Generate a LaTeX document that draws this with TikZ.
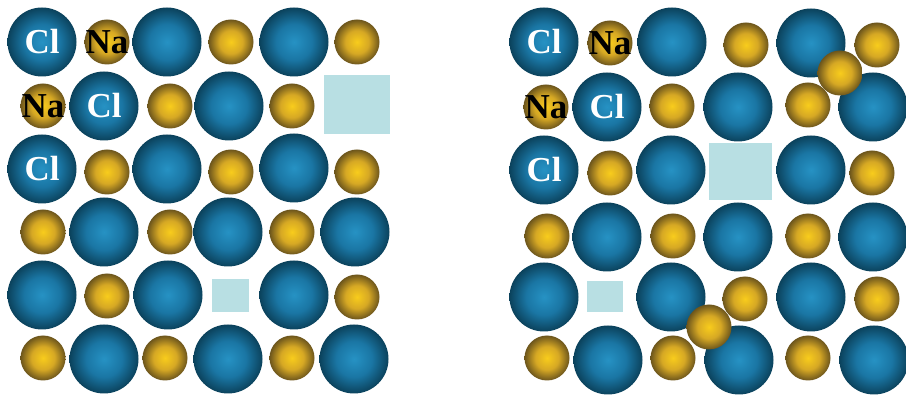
\documentclass[tikz,border=0pt]{standalone}
\usepackage{fontspec}
\setmainfont{Liberation Serif}
\definecolor{clcore}{RGB}{38,146,196}
\definecolor{clmid}{RGB}{26,118,164}
\definecolor{clrim}{RGB}{11,66,92}
\definecolor{nacore}{RGB}{248,204,28}
\definecolor{namid}{RGB}{214,168,36}
\definecolor{narim}{RGB}{108,85,28}
\definecolor{vacancy}{RGB}{184,223,227}
\pgfdeclareradialshading{clball}{\pgfpointorigin}{color(0bp)=(clcore); color(13bp)=(clmid); color(25bp)=(clrim); color(50bp)=(clrim)}
\pgfdeclareradialshading{naball}{\pgfpointorigin}{color(0bp)=(nacore); color(13bp)=(namid); color(25bp)=(narim); color(50bp)=(narim)}
\tikzset{
  chlorine/.style={circle, inner sep=0pt, minimum size=69pt, shading=clball},
  sodium/.style={circle, inner sep=0pt, minimum size=45pt, shading=naball},
  hole/.style={fill=vacancy, draw=none},
  ionlabel/.style={inner sep=0pt, font=\bfseries\fontsize{35}{35}\selectfont},
  cllabel/.style={ionlabel, text=white},
  nalabel/.style={ionlabel, text=black}
}
\begin{document}
\begin{tikzpicture}[x=1pt,y=-1pt]
\useasboundingbox (0,0) rectangle (906,395);

% ---------- left crystal: two vacancies ----------
% chloride ions
\foreach \x/\y [count=\i] in {42/42,167/42,294/42,
                              104/106,229/106,
                              42/169,167/169,294/168,
                              104/232,228/232,355/232,
                              42/295,168/295,294/295,
                              104/359,228/359,354/359}
  \node[chlorine] (lcl\i) at (\x,\y) {};
% sodium ions
\foreach \x/\y [count=\i] in {107/42,231/42,357/42,
                              43/106,170/106,292/106,
                              107/172,231/172,357/172,
                              43/232,170/232,292/232,
                              107/296,357/297,
                              43/358,165/358,292/358}
  \node[sodium] (lna\i) at (\x,\y) {};
% vacancies
\fill[hole] (324,75) rectangle (390,134);
\fill[hole] (212,279) rectangle (249,312);
% ion symbols
\node[cllabel] (lclA) at (lcl1) {Cl};
\node[nalabel] (lnaA) at (lna1) {Na};
\node[nalabel] (lnaB) at (lna4) {Na};
\node[cllabel] (lclB) at (lcl4) {Cl};
\node[cllabel] (lclC) at (lcl6) {Cl};

% ---------- right crystal: vacancies and interstitials ----------
\foreach \x/\y [count=\i] in {544/42,672/42,811/43,
                              607/107,738/107,873/107,
                              544/170,671/170,811/170,
                              607/237,738/237,873/237,
                              544/297,671/297,811/297,
                              608/360,739/360,874/360}
  \node[chlorine] (rcl\i) at (\x,\y) {};
\foreach \x/\y [count=\i] in {610/43,746/45,877/45,
                              546/107,672/106,808/105,
                              610/173,872/173,
                              547/236,673/236,808/236,
                              745/299,877/299,
                              547/358,673/358,808/358}
  \node[sodium] (rna\i) at (\x,\y) {};
% vacancies
\fill[hole] (709,143) rectangle (772,200);
\fill[hole] (587,281) rectangle (623,312);
% interstitial sodium ions
\node[sodium] (rint1) at (840,73) {};
\node[sodium] (rint2) at (709,327) {};
% ion symbols
\node[cllabel] (rclA) at (rcl1) {Cl};
\node[nalabel] (rnaA) at (rna1) {Na};
\node[nalabel] (rnaB) at (rna4) {Na};
\node[cllabel] (rclB) at (rcl4) {Cl};
\node[cllabel] (rclC) at (rcl7) {Cl};
\end{tikzpicture}
\end{document}
